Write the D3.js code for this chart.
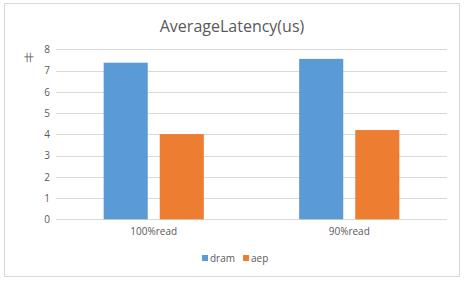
<!DOCTYPE html>
<html>
<head>
<meta charset="utf-8">
<script src="https://cdn.jsdelivr.net/npm/d3@7"></script>
<style>
  body { margin: 0; background: #fff; }
  text { font-family: "Open Sans", "Noto Sans", sans-serif; fill: #595959; }
</style>
</head>
<body>
<script>
(function() {

  var categories = ["100%read", "90%read"],
      series     = ["dram", "aep"],
      dram       = [7.37, 7.55],
      aep        = [4.01, 4.2],
      yTicks     = [0, 1, 2, 3, 4, 5, 6, 7, 8],
      colors     = ["#5B9BD5", "#ED7D31"],
      W = 466, H = 284,
      plot = { left: 56, right: 447, top: 49.3, bottom: 219.3 };

  var values = [dram, aep];

  var svg = d3.select("body").append("svg")
      .attr("width", W).attr("height", H);

  // chart frame
  svg.append("rect")
      .attr("x", 4.5).attr("y", 3.5)
      .attr("width", 455).attr("height", 273)
      .attr("fill", "#fff").attr("stroke", "#D9D9D9");

  svg.append("text")
      .attr("x", 232).attr("y", 32)
      .attr("text-anchor", "middle")
      .style("font-size", "16px")
      .text("AverageLatency(us)");

  var x0 = d3.scaleBand().domain(categories)
      .range([plot.left, plot.right]),
      x1 = d3.scaleBand().domain(series)
      .range([0, x0.bandwidth()])
      .paddingInner(0.214).paddingOuter(0.85),
      y  = d3.scaleLinear().domain([0, 8])
      .range([plot.bottom, plot.top]);

  // gridlines
  svg.append("g").selectAll("line")
      .data(yTicks)
      .enter().append("line")
      .attr("x1", plot.left).attr("x2", plot.right)
      .attr("y1", function(d) { return Math.round(y(d)) + 0.5; })
      .attr("y2", function(d) { return Math.round(y(d)) + 0.5; })
      .attr("stroke", "#D9D9D9");

  var yAxis = svg.append("g")
      .attr("transform", "translate(" + (plot.left - 6) + ",0)")
      .call(d3.axisLeft(y).tickValues(yTicks).tickSize(0).tickPadding(0));
  yAxis.select(".domain").remove();
  yAxis.selectAll("text")
      .style("font-size", "10px")
      .attr("fill", "#595959");

  // small axis title glyph
  svg.append("text")
      .attr("x", 29).attr("y", 61)
      .attr("text-anchor", "middle")
      .style("font-size", "10px")
      .text("卄");

  // bars
  svg.append("g").selectAll("g")
      .data(series)
      .enter().append("g")
      .attr("fill", function(d, i) { return colors[i]; })
      .selectAll("rect")
      .data(function(d, i) {
        return categories.map(function(c, j) { return { s: d, c: c, v: values[i][j] }; });
      })
      .enter().append("rect")
      .attr("x", function(d) { return x0(d.c) + x1(d.s); })
      .attr("width", x1.bandwidth())
      .attr("y", function(d) { return y(d.v); })
      .attr("height", function(d) { return y(0) - y(d.v); });

  var xAxis = svg.append("g")
      .attr("transform", "translate(0," + plot.bottom + ")")
      .call(d3.axisBottom(x0).tickSize(0).tickPadding(9));
  xAxis.select(".domain").remove();
  xAxis.selectAll("text")
      .style("font-size", "10px")
      .attr("fill", "#595959");

  // legend
  var legend = svg.append("g").attr("transform", "translate(202,259)");
  var lx = [0, 41];
  series.forEach(function(s, i) {
    legend.append("rect")
        .attr("x", lx[i]).attr("y", -4)
        .attr("width", 6).attr("height", 6)
        .attr("fill", colors[i]);
    legend.append("text")
        .attr("x", lx[i] + 8).attr("y", 3)
        .style("font-size", "10px")
        .text(s);
  });

}());
</script>
</body>
</html>
